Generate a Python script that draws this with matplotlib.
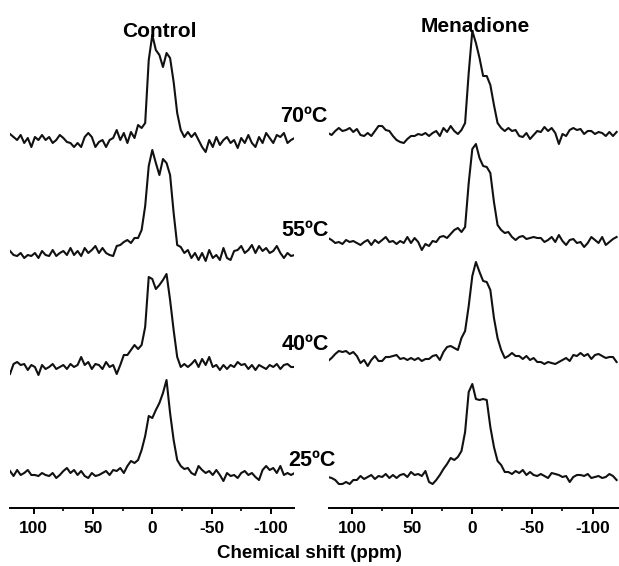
import numpy as np
import matplotlib
matplotlib.use('Agg')
import matplotlib.pyplot as plt
from matplotlib.ticker import MultipleLocator

plt.rcParams['font.family'] = ['Liberation Sans', 'DejaVu Sans']
plt.rcParams['font.weight'] = 'bold'
plt.rcParams['axes.unicode_minus'] = False

# chemical shift grid (ppm), same for every trace
ppm = np.arange(120, -121, -3)

temps = ['70ºC', '55ºC', '40ºC', '25ºC']

# intensities (a.u.), 120 -> -120 ppm
ctrl_70 = [6, 3, 0, 5, -3, 2, -7, 3, 0,
           5, 0, 3, -3, 0, 5, 2, -2, -3,
           -7, -3, -7, 3, 7, 3, -7, -2, 0,
           -7, 0, 2, 10, 0, 7, -3, 8, 2,
           15, 12, 17, 80, 105, 90, 85, 73, 87,
           82, 58, 27, 10, 3, 8, 3, 7, 0,
           -7, -12, 0, -7, 3, -5, 0, 3, -3,
           0, -8, 2, -3, 5, -3, -7, 3, -3,
           7, 2, -3, 5, 3, 7, -3, 0, 2]
ctrl_55 = [2, -2, -3, 0, -5, -2, -3, 0, -5,
           2, -2, -3, 3, -3, 0, 2, -2, 5,
           -2, 2, -3, 5, 0, 3, 7, 0, 5,
           0, -2, -3, 7, 8, 11, 13, 10, 15,
           15, 23, 47, 87, 103, 90, 78, 94, 90,
           78, 40, 8, 6, 0, 3, -5, 0, -7,
           0, -8, 3, -5, -2, -7, 5, -5, -7,
           2, 3, 7, 0, 3, 8, 0, 7, 2,
           5, 0, 2, 7, 0, -5, 0, -3, -2]
ctrl_40 = [-7, 3, 5, 2, 3, -3, 2, 0, -8,
           2, -2, 0, 3, -2, 0, 2, -2, 3,
           0, 2, 10, 2, 5, -2, 3, 2, -2,
           5, 0, 2, -7, 2, 12, 12, 17, 22,
           18, 22, 40, 90, 88, 78, 82, 87, 93,
           67, 37, 10, 0, 3, 0, 3, 7, 0,
           8, 2, 10, 0, 2, -3, 2, -2, 2,
           0, 5, 2, 3, -2, 2, -3, 2, 0,
           -2, 2, 0, 3, -2, 2, 3, 0, 0]
ctrl_25 = [2, -3, 3, -2, 0, 3, -2, -2, -3,
           0, -2, -3, 0, -5, -2, 2, 5, 0,
           3, -2, 2, -3, -5, 0, -3, -2, 0,
           2, -2, 3, 2, 5, 0, 7, 12, 10,
           13, 23, 37, 57, 55, 63, 70, 80, 93,
           60, 33, 13, 7, 4, 5, 0, -2, 7,
           3, 0, 2, -2, 3, -2, -8, 0, -3,
           -2, -5, 0, 2, -2, 0, -4, -7, 3,
           7, 3, 5, 0, 7, -2, 0, -2, 0]

mena_70 = [0, -2, 2, 5, 2, 3, 5, 1, 4,
           -2, -3, 0, -3, 2, 7, 7, 3, 2,
           -3, -7, -9, -10, -6, -3, -3, -1, -2,
           0, -3, 0, 2, -3, 5, 1, 7, 2,
           -1, 3, 10, 60, 102, 90, 75, 57, 57,
           48, 28, 10, 5, 2, 5, 2, 3, -3,
           -4, 0, -6, -2, 2, 1, 6, 2, 5,
           0, -11, -1, -3, 3, 5, 3, 4, -1,
           2, 2, -1, 1, 0, -3, 1, -3, 1]
mena_55 = [2, 0, -3, -2, -4, 0, -2, -1, -3,
           -5, -2, 0, -5, 0, -3, 0, 3, -2,
           -1, -4, -1, -3, 3, -3, 2, -2, -10,
           -4, -6, -1, -2, 3, 4, 2, 6, 10,
           12, 8, 13, 57, 91, 96, 82, 74, 73,
           67, 38, 15, 10, 7, 8, 3, 0, 3,
           4, 1, 2, 3, 2, 2, -2, 0, 3,
           -2, 5, -1, -5, 0, 1, -3, -2, -7,
           -3, 3, 0, -3, 3, -5, -2, 1, 3]
mena_40 = [-3, 0, 4, 7, 6, 7, 4, 6, 2,
           -5, -2, -8, -2, 2, -3, -3, 1, 1,
           2, 3, -1, 0, -2, 0, -2, 0, -3,
           -1, -1, 2, 3, -2, 6, 11, 12, 10,
           8, 20, 27, 52, 82, 96, 86, 77, 76,
           68, 40, 20, 8, 0, 2, 5, 2, 2,
           -1, 2, -2, 0, -4, -4, -6, -4, -5,
           -6, -4, -2, 0, -3, 3, 2, 5, 2,
           4, -1, 3, 4, 2, 0, 1, 1, -4]
mena_25 = [0, -1, -3, -7, -7, -5, -7, -3, -3,
           1, -2, 0, 2, -2, 1, 0, 3, -1,
           2, -1, 2, 3, 0, 5, 2, 3, 1,
           6, -5, -7, -3, 2, 8, 13, 19, 17,
           20, 26, 45, 85, 93, 78, 77, 78, 77,
           50, 30, 16, 12, 5, 5, 3, 6, 4,
           7, 2, 5, 2, 1, 3, 1, -1, 4,
           3, 2, 0, 1, -5, 0, 2, 2, 1,
           3, -1, 0, 1, -1, 0, 3, 1, -3]

control = [ctrl_70, ctrl_55, ctrl_40, ctrl_25]
menadione = [mena_70, mena_55, mena_40, mena_25]


def draw_panel(ax, traces, offsets, xlim):
    """Stacked spectra with only a bottom ppm axis."""
    for tr, off in zip(traces, offsets):
        ax.plot(ppm, np.array(tr) + off, color='#111111', lw=1.5,
                solid_joinstyle='round')
    ax.set_xlim(*xlim)
    ax.set_ylim(0, 508)
    for s in ('top', 'left', 'right'):
        ax.spines[s].set_visible(False)
    ax.spines['bottom'].set_linewidth(1.4)
    ax.set_yticks([])
    ax.xaxis.set_major_locator(MultipleLocator(50))
    ax.xaxis.set_minor_locator(MultipleLocator(25))
    ax.tick_params(axis='x', which='major', direction='out', length=4,
                   width=1.4, labelsize=12.5, pad=5.5)
    ax.tick_params(axis='x', which='minor', direction='out', length=2.5,
                   width=1.2)
    ax.patch.set_visible(False)


fig = plt.figure(figsize=(6.19, 5.66), dpi=100)
ax_l = fig.add_axes([10 / 619, 58 / 566, 284 / 619, 508 / 566])
ax_r = fig.add_axes([328.5 / 619, 58 / 566, 290.5 / 619, 508 / 566])

draw_panel(ax_l, control, [368, 255, 141, 35], (120, -119.5))
draw_panel(ax_r, menadione, [375, 268, 150, 31], (119.6, -122))

# titles
fig.text(159 / 619, 1 - 36.7 / 566, 'Control', ha='center', va='baseline',
         fontsize=15, fontweight='bold')
fig.text(475 / 619, 1 - 31.7 / 566, 'Menadione', ha='center',
         va='baseline', fontsize=15, fontweight='bold')

# temperature labels between the panels
lab_pos = [(304, 117), (305, 230), (305, 345), (312, 461)]
for t, (px, py) in zip(temps, lab_pos):
    fig.text(px / 619, 1 - py / 566, t, ha='center', va='center',
             fontsize=15.5, fontweight='bold')

fig.text(0.5, 1 - 553 / 566, 'Chemical shift (ppm)', ha='center',
         va='center', fontsize=13.5, fontweight='bold')

fig.savefig('out.png', dpi=100)
